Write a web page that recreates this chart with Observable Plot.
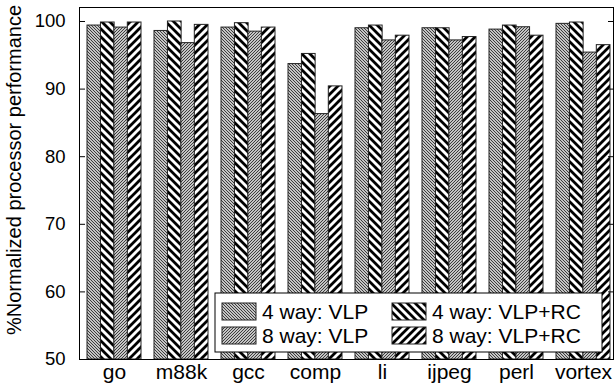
<!DOCTYPE html>
<html><head><meta charset="utf-8">
<script src="https://cdn.jsdelivr.net/npm/d3@7"></script>
<script src="https://cdn.jsdelivr.net/npm/@observablehq/plot@0.6"></script>
<style>body{margin:0;background:#fff} svg{font-family:"Liberation Sans",Arial,sans-serif}</style>
</head><body><div id="chart"></div>
<script>
const benchmarks = ["go","m88k","gcc","comp","li","ijpeg","perl","vortex"];
const seriesNames = ["4 way: VLP","4 way: VLP+RC","8 way: VLP","8 way: VLP+RC"];
const vlp4   = [99.4, 98.6, 99.1, 93.7, 99.0, 99.0, 98.8, 99.65];
const vlpRc4 = [99.85, 100.0, 99.75, 95.2, 99.4, 99.0, 99.4, 99.85];
const vlp8   = [99.1, 96.8, 98.5, 86.3, 97.2, 97.2, 99.15, 95.4];
const vlpRc8 = [99.85, 99.5, 99.1, 90.4, 97.9, 97.7, 97.9, 96.5];
const yTicks = [50, 60, 70, 80, 90, 100];
const yTitle = "%Normalized processor performance";

const seriesValues = [vlp4, vlpRc4, vlp8, vlpRc8];

const W = 614, H = 387;
const xRange = [86, 610], padInner = 0.2;
const step = (xRange[1] - xRange[0]) / (benchmarks.length - padInner);
const bw = step * (1 - padInner);
const q = bw / 4;

const barMarks = seriesValues.map((vals, i) =>
  Plot.barY(benchmarks.map((b, j) => ({bench: b, value: vals[j]})), {
    x: "bench", y1: 50, y2: "value",
    fill: `url(#pat${i})`, stroke: "#222", strokeWidth: 1,
    insetLeft: i * q, insetRight: (3 - i) * q
  })
);

const noText = () => "";

const plot = Plot.plot({
  width: W, height: H,
  marginLeft: 79, marginRight: 1, marginTop: 7, marginBottom: 28,
  style: {fontFamily: "Liberation Sans, Arial, sans-serif", fontSize: "18px", color: "black", background: "white"},
  x: {domain: benchmarks, range: xRange, paddingInner: padInner, paddingOuter: 0},
  y: {domain: [50, 102.07]},
  marks: [
    ...barMarks,
    Plot.frame({stroke: "black"}),
    Plot.axisY({ticks: yTicks, anchor: "left", tickSize: 0, tickPadding: 14, fontSize: 18.5, label: null}),
    Plot.axisY({ticks: yTicks, anchor: "left", tickSize: -6, tickFormat: noText, label: null}),
    Plot.axisY({ticks: yTicks, anchor: "right", tickSize: -6, tickFormat: noText, label: null}),
    Plot.axisX({tickSize: 0, tickPadding: 5, fontSize: 21, label: null})
  ]
});

const svg = d3.select(plot.tagName.toLowerCase() === "svg" ? plot : plot.querySelector("svg"));
const defs = svg.insert("defs", ":first-child");
function finePattern(id, back) {
  const p = defs.append("pattern").attr("id", id).attr("patternUnits", "userSpaceOnUse")
    .attr("width", 3).attr("height", 3);
  p.append("rect").attr("width", 3).attr("height", 3).attr("fill", "white");
  const d = back
    ? "M0,0L3,3M-1,2L1,4M2,-1L4,1"
    : "M0,3L3,0M-1,1L1,-1M2,4L4,2";
  p.append("path").attr("d", d).attr("stroke", "#333").attr("stroke-width", 1.1);
}
function thickPattern(id, back) {
  const s = 8;
  const p = defs.append("pattern").attr("id", id).attr("patternUnits", "userSpaceOnUse")
    .attr("width", s).attr("height", s);
  p.append("rect").attr("width", s).attr("height", s).attr("fill", "white");
  const d = back
    ? `M0,0L${s},${s}M${-s/2},${s/2}L${s/2},${1.5*s}M${s/2},${-s/2}L${1.5*s},${s/2}`
    : `M0,${s}L${s},0M${-s/2},${s/2}L${s/2},${-s/2}M${s/2},${1.5*s}L${1.5*s},${s/2}`;
  p.append("path").attr("d", d).attr("stroke", "black").attr("stroke-width", 2.8);
}
finePattern("pat0", true);
thickPattern("pat1", true);
finePattern("pat2", false);
thickPattern("pat3", false);

// y title
svg.append("text")
  .attr("transform", "translate(21,170) rotate(-90)")
  .attr("text-anchor", "middle")
  .attr("font-size", 20)
  .attr("fill", "black")
  .text(yTitle);

// legend
const lg = svg.append("g");
lg.append("rect").attr("x", 215).attr("y", 293).attr("width", 387).attr("height", 59)
  .attr("fill", "white").attr("stroke", "black").attr("stroke-width", 1);
const cols = [222, 392], rows = [303, 327];
seriesNames.forEach((name, i) => {
  const cx = cols[i % 2 === 0 ? 0 : 1];
  const ry = rows[i < 2 ? 0 : 1];
  lg.append("rect").attr("x", cx).attr("y", ry).attr("width", 34).attr("height", 17)
    .attr("fill", `url(#pat${i})`).attr("stroke", "#222");
  lg.append("text").attr("x", cx + 40).attr("y", ry + 15.5)
    .attr("text-anchor", "start")
    .attr("font-size", 21).attr("fill", "black").text(name);
});

document.getElementById("chart").append(plot);
</script>
</body></html>
